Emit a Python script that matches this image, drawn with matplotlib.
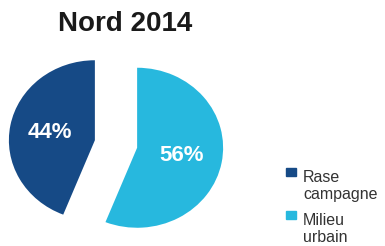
import matplotlib.pyplot as plt
from matplotlib.patches import Rectangle

plt.rcParams['font.family'] = ['Liberation Sans', 'DejaVu Sans']

title = 'Nord 2014'
labels = ['Rase\ncampagne', 'Milieu\nurbain']
values = [44, 56]
colors = ['#164a86', '#27b8de']

W, H = 385, 246
k = 86.0 / 80.0  # the pie is a bit wider than tall

fig = plt.figure(figsize=(W / 100.0, H / 100.0), dpi=100)
ax = fig.add_axes([0, 0, 1, 1])

# explode is in data units here (not scaled by radius)
wedges, texts, autotexts = ax.pie(values, colors=colors, startangle=90,
                                  explode=[21.5, 21.5], radius=86,
                                  center=(116, (H - 144) * k),
                                  autopct='%1.0f%%', pctdistance=0.53,
                                  frame=True, wedgeprops=dict(linewidth=0),
                                  textprops=dict(color='white', fontsize=16,
                                                 fontweight='bold'))
ax.set_xlim(0, W)
ax.set_ylim(0, H * k)
ax.set_aspect('auto')
ax.axis('off')

fig.text(125 / W, 1 - 24 / H, title, ha='center', va='center',
         fontsize=20, fontweight='bold', color='#1a1a1a')

# legend, first line of each entry next to its square
for i, (lab, c) in enumerate(zip(labels, colors)):
    ytop = 168 + i * 43
    fig.patches.append(Rectangle((286 / W, 1 - (ytop + 8) / H), 10 / W, 8 / H,
                                 transform=fig.transFigure, color=c))
    fig.text(303 / W, 1 - (ytop + 2) / H, lab, ha='left', va='top',
             fontsize=11.5, color='#333333', linespacing=1.18)

fig.savefig('out.png', dpi=100)
